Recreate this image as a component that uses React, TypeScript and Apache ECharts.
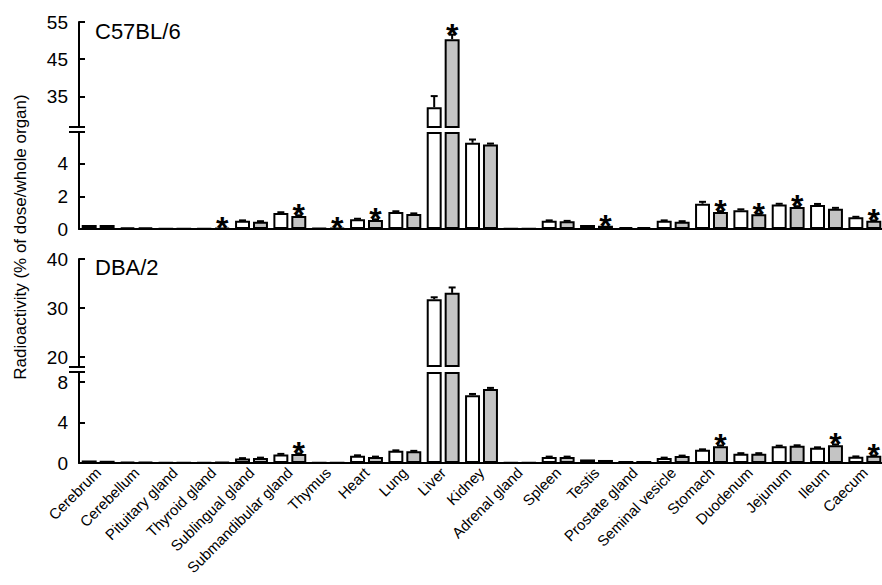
import React, { useEffect, useRef } from "react";
import * as echarts from "echarts";

const categories = [
  "Cerebrum", "Cerebellum", "Pituitary gland", "Thyroid gland", "Sublingual gland",
  "Submandibular gland", "Thymus", "Heart", "Lung", "Liver", "Kidney", "Adrenal gland",
  "Spleen", "Testis", "Prostate gland", "Seminal vesicle", "Stomach", "Duodenum",
  "Jejunum", "Ileum", "Caecum",
];

// C57BL/6 panel
const c57White = [0.25, 0.08, 0.02, 0.04, 0.5, 0.98, 0.05, 0.6, 1.04, 32.1, 5.3, 0.03, 0.5, 0.25, 0.12, 0.5, 1.55, 1.15, 1.5, 1.48, 0.72];
const c57Gray = [0.25, 0.08, 0.02, 0.05, 0.45, 0.8, 0.05, 0.56, 0.92, 50.4, 5.2, 0.03, 0.47, 0.2, 0.12, 0.45, 1.05, 0.9, 1.35, 1.25, 0.5];
const c57WhiteErr = [0, 0, 0, 0, 0.03, 0.05, 0, 0.03, 0.05, 3.0, 0.2, 0, 0.03, 0, 0, 0.03, 0.12, 0.06, 0.05, 0.06, 0.03];
const c57GrayErr = [0, 0, 0, 0, 0.03, 0.04, 0, 0.03, 0.04, 1.2, 0.05, 0, 0.03, 0, 0, 0.03, 0.05, 0.04, 0.05, 0.05, 0.03];
const c57Sig = [0, 0, 0, 1, 0, 1, 1, 1, 0, 1, 0, 0, 0, 1, 0, 0, 1, 1, 1, 0, 1];
const c57UpperTicks = [35, 45, 55];
const c57LowerTicks = [0, 2, 4];

// DBA/2 panel
const dbaWhite = [0.25, 0.12, 0.04, 0.06, 0.45, 0.85, 0.03, 0.72, 1.2, 31.8, 6.7, 0.05, 0.6, 0.35, 0.2, 0.5, 1.3, 0.92, 1.65, 1.5, 0.62];
const dbaGray = [0.22, 0.1, 0.04, 0.08, 0.5, 0.9, 0.03, 0.6, 1.15, 33.1, 7.3, 0.05, 0.6, 0.3, 0.2, 0.7, 1.65, 0.92, 1.7, 1.75, 0.72];
const dbaWhiteErr = [0, 0, 0, 0, 0.03, 0.05, 0, 0.04, 0.05, 0.4, 0.12, 0, 0.03, 0, 0, 0.03, 0.05, 0.05, 0.06, 0.05, 0.03];
const dbaGrayErr = [0, 0, 0, 0, 0.03, 0.05, 0, 0.03, 0.05, 1.1, 0.12, 0, 0.03, 0, 0, 0.03, 0.08, 0.05, 0.05, 0.08, 0.03];
const dbaSig = [0, 0, 0, 0, 0, 1, 0, 0, 0, 0, 0, 0, 0, 0, 0, 0, 1, 0, 0, 1, 1];
const dbaUpperTicks = [20, 30, 40];
const dbaLowerTicks = [0, 4, 8];

const FONT = "Liberation Sans, Arial, Helvetica, sans-serif";
const BAR_W = 0.39;
const BAR_GAP = 0.2;
const OFFSET = (BAR_W + BAR_W * BAR_GAP) / 2;

const grids = [
  { left: 79, right: -2, top: 22, height: 105, min: 26.8, max: 55, ticks: c57UpperTicks },
  { left: 79, right: -2, top: 133, height: 96, min: 0, max: 5.9, ticks: c57LowerTicks },
  { left: 79, right: -2, top: 259, height: 107, min: 18.2, max: 40, ticks: dbaUpperTicks },
  { left: 79, right: -2, top: 373, height: 90, min: 0, max: 8.89, ticks: dbaLowerTicks },
];

function renderMarks(params: any, api: any) {
  const cat = api.value(0);
  const val = api.value(1);
  const err = api.value(2);
  const sig = api.value(3);
  const side = api.value(4);
  const band = api.size([1, 0])[0];
  const p = api.coord([cat, val]);
  const x = p[0] + side * band * OFFSET;
  const children: any[] = [];
  let topY = p[1];
  if (err > 0) {
    const e = api.coord([cat, val + err])[1];
    children.push({ type: "line", shape: { x1: x, y1: p[1], x2: x, y2: e }, style: { stroke: "#000", lineWidth: 2 } });
    children.push({ type: "line", shape: { x1: x - 3.5, y1: e, x2: x + 3.5, y2: e }, style: { stroke: "#000", lineWidth: 2 } });
    topY = e;
  }
  if (sig) {
    children.push({
      type: "text",
      style: {
        x: x,
        y: topY - 8 + 8,
        text: "*",
        fill: "#000",
        font: `bold 32px ${FONT}`,
        textAlign: "center",
        textVerticalAlign: "middle",
      },
    });
  }
  return { type: "group", children };
}

function buildPanel(upper: number, lower: number, white: number[], gray: number[], wErr: number[], gErr: number[], sig: number[]) {
  const upMin = grids[upper].min;
  const lowMax = grids[lower].max;
  const series: any[] = [];
  const whiteStyle = { color: "#ffffff", borderColor: "#000", borderWidth: 2 };
  const grayStyle = { color: "#c4c4c4", borderColor: "#000", borderWidth: 2 };
  [upper, lower].forEach((g) => {
    const isUpper = g === upper;
    const wData = white.map((v) => (isUpper ? (v > upMin ? v : "-") : v));
    const gData = gray.map((v) => (isUpper ? (v > upMin ? v : "-") : v));
    series.push({ type: "bar", xAxisIndex: g, yAxisIndex: g, data: wData, barWidth: `${BAR_W * 100}%`, barGap: `${BAR_GAP * 100}%`, itemStyle: whiteStyle, clip: true, silent: true });
    series.push({ type: "bar", xAxisIndex: g, yAxisIndex: g, data: gData, barWidth: `${BAR_W * 100}%`, barGap: `${BAR_GAP * 100}%`, itemStyle: grayStyle, clip: true, silent: true });
    const marks: any[] = [];
    categories.forEach((_, i) => {
      const inRange = (v: number) => (isUpper ? v > upMin : v <= lowMax);
      if (inRange(white[i]) && wErr[i] > 0) marks.push([i, white[i], wErr[i], 0, -1]);
      if (inRange(gray[i]) && (gErr[i] > 0 || sig[i])) marks.push([i, gray[i], gErr[i], sig[i], 1]);
    });
    series.push({ type: "custom", xAxisIndex: g, yAxisIndex: g, data: marks, renderItem: renderMarks, silent: true, z: 5 });
  });
  return series;
}

export default function App() {
  const ref = useRef<HTMLDivElement>(null);
  useEffect(() => {
    if (!ref.current) return;
    const chart = echarts.init(ref.current, undefined, { renderer: "svg" });
    const xAxis = grids.map((_, i) => ({
      type: "category",
      gridIndex: i,
      data: categories,
      axisTick: { show: false },
      axisLine: { show: i === 1 || i === 3, lineStyle: { color: "#000", width: 2 } },
      axisLabel: {
        show: i === 3,
        rotate: 45,
        interval: 0,
        fontSize: 15,
        fontFamily: FONT,
        color: "#000",
        margin: 7,
        hideOverlap: false,
      },
    }));
    const yAxis = grids.map((g, i) => ({
      type: "value",
      gridIndex: i,
      min: g.min,
      max: g.max,
      splitLine: { show: false },
      axisLine: { show: true, lineStyle: { color: "#000", width: 2 } },
      axisTick: { show: true, inside: true, length: 6, lineStyle: { color: "#000", width: 2 }, customValues: g.ticks },
      axisLabel: { fontSize: 19, fontFamily: FONT, color: "#000", margin: 11, customValues: g.ticks },
    }));
    const series = [
      ...buildPanel(0, 1, c57White, c57Gray, c57WhiteErr, c57GrayErr, c57Sig),
      ...buildPanel(2, 3, dbaWhite, dbaGray, dbaWhiteErr, dbaGrayErr, dbaSig),
    ];
    const breakLine = (x1: number, y: number, x2: number) => ({
      type: "line",
      shape: { x1, y1: y, x2, y2: y },
      style: { stroke: "#000", lineWidth: 2 },
      z: 10,
    });
    chart.setOption({
      animation: false,
      backgroundColor: "#fff",
      grid: grids.map((g) => ({ left: g.left, right: g.right, top: g.top, height: g.height, containLabel: false, outerBoundsMode: "none" })),
      xAxis,
      yAxis,
      series,
      graphic: [
        { type: "text", left: 95, top: 20, style: { text: "C57BL/6", font: `22px ${FONT}`, fill: "#000" } },
        { type: "text", left: 95, top: 256, style: { text: "DBA/2", font: `22px ${FONT}`, fill: "#000" } },
        {
          type: "text",
          x: 20,
          y: 237,
          rotation: Math.PI / 2,
          style: { text: "Radioactivity (% of dose/whole organ)", font: `17px ${FONT}`, fill: "#000", textAlign: "center", textVerticalAlign: "middle" },
        },
        breakLine(69, 127, 85),
        breakLine(69, 132, 85),
        breakLine(69, 367, 85),
        breakLine(69, 372, 85),
      ],
    });
    return () => chart.dispose();
  }, []);
  return <div ref={ref} style={{ position: "absolute", left: 0, top: 0, width: 882, height: 585 }} />;
}
